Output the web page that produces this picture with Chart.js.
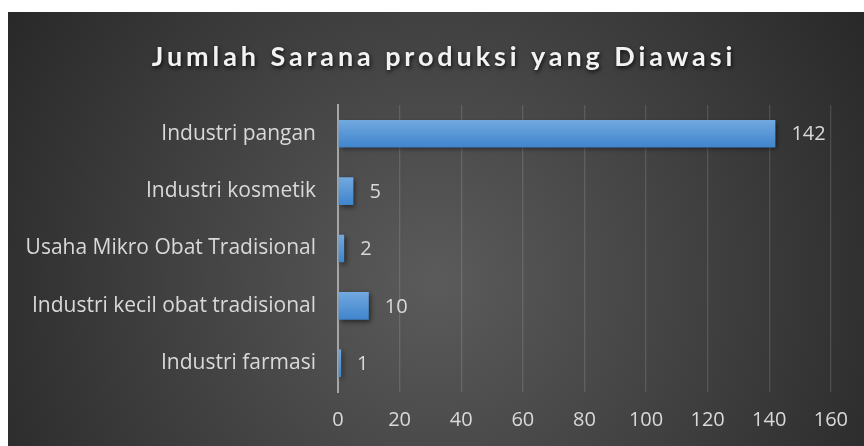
<!DOCTYPE html>
<html>
<head>
<meta charset="utf-8">
<script src="https://cdn.jsdelivr.net/npm/chart.js@4"></script>
<style>
  html, body { margin: 0; padding: 0; background: #fff; }
  #wrap { position: absolute; left: 8px; top: 12px; width: 856px; height: 434px; }
</style>
</head>
<body>
<div id="wrap"><canvas id="saranaChart"></canvas></div>
<script>
// data
const chartTitle = 'Jumlah Sarana produksi yang Diawasi';
const categories = ['Industri pangan', 'Industri kosmetik', 'Usaha Mikro Obat Tradisional', 'Industri kecil obat tradisional', 'Industri farmasi'];
const jumlah = [142, 5, 2, 10, 1];
const xMax = 160;
const xStep = 20;

const FONT = '"Open Sans", Lato, sans-serif';
const TITLE_FONT = 'Lato, "Open Sans", sans-serif';
const LABEL_COLOR = '#d9d9d9';

// background gradient (dark edges, lighter middle)
const bgPlugin = {
  id: 'bgPlugin',
  beforeDraw(chart) {
    const { ctx, width, height } = chart;
    const g = ctx.createRadialGradient(width * 0.5, height * 0.62, 10, width * 0.5, height * 0.62, width * 0.62);
    g.addColorStop(0, '#5a5a5a');
    g.addColorStop(1, '#262626');
    ctx.save();
    ctx.fillStyle = g;
    ctx.fillRect(0, 0, width, height);
    ctx.restore();
  }
};

// title with letter spacing and shadow
const titlePlugin = {
  id: 'titlePlugin',
  afterDraw(chart) {
    const { ctx, width } = chart;
    ctx.save();
    ctx.font = 'bold 27px ' + TITLE_FONT;
    if ('letterSpacing' in ctx) ctx.letterSpacing = '3.9px';
    ctx.textAlign = 'center';
    ctx.textBaseline = 'middle';
    ctx.shadowColor = 'rgba(0,0,0,0.8)';
    ctx.shadowBlur = 4;
    ctx.shadowOffsetX = 1;
    ctx.shadowOffsetY = 2;
    ctx.fillStyle = '#f2f2f2';
    ctx.fillText(chartTitle, width / 2 + 8, 45);
    ctx.restore();
  }
};

// bar shadow + value labels
const barExtras = {
  id: 'barExtras',
  beforeDatasetsDraw(chart) {
    const ctx = chart.ctx;
    ctx.save();
    ctx.shadowColor = 'rgba(0,0,0,0.55)';
    ctx.shadowBlur = 5;
    ctx.shadowOffsetX = 2;
    ctx.shadowOffsetY = 2;
  },
  afterDatasetsDraw(chart) {
    const ctx = chart.ctx;
    ctx.restore();
    ctx.save();
    ctx.font = '20px ' + FONT;
    ctx.fillStyle = LABEL_COLOR;
    ctx.textAlign = 'left';
    ctx.textBaseline = 'middle';
    chart.getDatasetMeta(0).data.forEach((bar, i) => {
      ctx.fillText(String(jumlah[i]), bar.x + 16, bar.y + 1);
    });
    ctx.restore();
  }
};

function barFill(context) {
  const chart = context.chart;
  if (!chart.chartArea || !chart.scales.y) return '#5596d8';
  const y = chart.scales.y.getPixelForValue(context.dataIndex);
  const g = chart.ctx.createLinearGradient(0, y - 14, 0, y + 14);
  g.addColorStop(0, '#72a9e0');
  g.addColorStop(1, '#3f84cc');
  return g;
}

let saranaChart = new Chart(document.getElementById('saranaChart'), {
  type: 'bar',
  data: {
    labels: categories,
    datasets: [{
      data: jumlah,
      backgroundColor: barFill,
      borderWidth: 0,
      barPercentage: 0.6,
      categoryPercentage: 0.8
    }]
  },
  options: {
    indexAxis: 'y',
    responsive: true,
    maintainAspectRatio: false,
    animation: false,
    layout: { padding: { top: 93, left: 0, right: 32, bottom: 0 } },
    plugins: {
      legend: { display: false },
      title: { display: false },
      tooltip: { enabled: false }
    },
    scales: {
      x: {
        min: 0,
        max: xMax,
        ticks: { stepSize: xStep, color: LABEL_COLOR, font: { family: FONT, size: 20 }, padding: 16, maxRotation: 0 },
        grid: { color: 'rgba(255,255,255,0.13)', lineWidth: 1.3, drawTicks: false },
        border: { display: false },
        afterFit(scale) { scale.height = 54; }
      },
      y: {
        ticks: { color: LABEL_COLOR, font: { family: FONT, size: 21 }, padding: 22 },
        grid: { display: false, drawTicks: false },
        border: { display: true, color: '#a6a6a6', width: 2 },
        afterFit(scale) { scale.width = 330; }
      }
    }
  },
  plugins: [bgPlugin, barExtras, titlePlugin]
});
</script>
</body>
</html>
